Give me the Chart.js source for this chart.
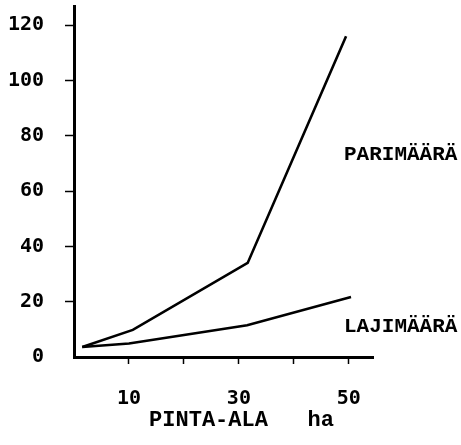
<!DOCTYPE html>
<html><head><meta charset="utf-8">
<script src="https://cdn.jsdelivr.net/npm/chart.js@4"></script>
<style>html,body{margin:0;padding:0;background:#fff}#c{display:block}</style>
</head><body><canvas id="c" width="461" height="445"></canvas>
<script>
const pariX = [1.5, 10.7, 31.6, 49.5];
const pariY = [3.6, 9.8, 34, 116];
const lajiX = [1.5, 10, 31.5, 50.4];
const lajiY = [3.6, 4.9, 11.5, 21.7];
const xTickLabels = {10: '10', 30: '30', 50: '50'};
const seriesNames = ['PARIMÄÄRÄ', 'LAJIMÄÄRÄ'];
const seriesLabelY = [73, 10.8];
const xTitle = 'PINTA-ALA   ha';

const toPts = (xs, ys) => xs.map((x, i) => ({x: x, y: ys[i]}));

const labelPlugin = {
  id: 'seriesLabels',
  afterDraw(chart) {
    const ctx = chart.ctx, ys = chart.scales.y, area = chart.chartArea;
    ctx.save();
    ctx.fillStyle = '#000';
    ctx.font = 'bold 21px "Liberation Mono", monospace';
    ctx.textAlign = 'left';
    ctx.textBaseline = 'middle';
    seriesNames.forEach((n, i) => {
      ctx.fillText(n, area.right - 29, ys.getPixelForValue(seriesLabelY[i]));
    });
    ctx.font = 'bold 22px "Liberation Mono", monospace';
    ctx.textAlign = 'center';
    ctx.fillText(xTitle, (area.left + area.right) / 2 + 18, area.bottom + 63);
    ctx.restore();
  }
};

new Chart(document.getElementById('c'), {
  type: 'line',
  data: {
    datasets: [
      {label: seriesNames[0], data: toPts(pariX, pariY), borderColor: '#000', borderWidth: 2.6, pointRadius: 0, tension: 0, fill: false},
      {label: seriesNames[1], data: toPts(lajiX, lajiY), borderColor: '#000', borderWidth: 2.6, pointRadius: 0, tension: 0, fill: false}
    ]
  },
  options: {
    responsive: false,
    devicePixelRatio: 1,
    animation: false,
    layout: {padding: {top: 6, right: 88, left: 0, bottom: 0}},
    plugins: {legend: {display: false}, tooltip: {enabled: false}},
    scales: {
      x: {
        type: 'linear', min: 0, max: 54.4,
        afterFit: s => { s.height = 88; s.paddingLeft = 0; s.paddingRight = 0; },
        border: {color: '#000', width: 3},
        grid: {drawOnChartArea: false, drawTicks: true, tickLength: 7, tickWidth: 1.5,
               tickColor: c => (c.tick && c.tick.value === 0) ? 'rgba(0,0,0,0)' : '#000'},
        ticks: {stepSize: 10, includeBounds: false, autoSkip: false, maxRotation: 0,
                callback: v => xTickLabels[v] || '',
                color: '#000', padding: 23,
                font: {family: '"DejaVu Sans Mono", monospace', size: 20, weight: 'bold'}}
      },
      y: {
        type: 'linear', min: 0, max: 126.9,
        afterFit: s => { s.width = 74; s.paddingTop = 0; s.paddingBottom = 0; },
        border: {color: '#000', width: 3},
        grid: {drawOnChartArea: false, drawTicks: true, tickLength: 9, tickWidth: 1.5,
               tickColor: c => (c.tick && c.tick.value === 0) ? 'rgba(0,0,0,0)' : '#000'},
        ticks: {stepSize: 20, includeBounds: false, color: '#000', padding: 21,
                font: {family: '"DejaVu Sans Mono", monospace', size: 20, weight: 'bold'}}
      }
    }
  },
  plugins: [labelPlugin]
});
</script>
</body></html>
